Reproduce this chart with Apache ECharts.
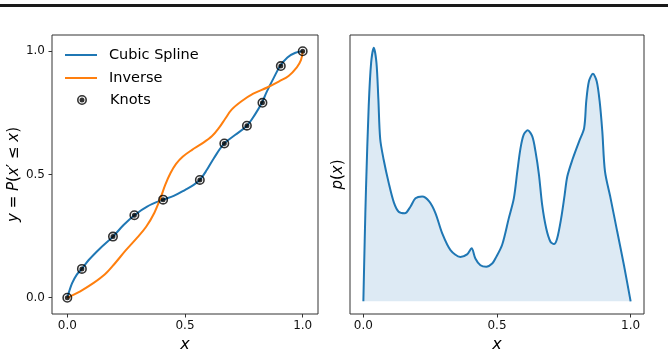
<!DOCTYPE html>
<html><head><meta charset="utf-8">
<script src="https://cdn.jsdelivr.net/npm/echarts@6/dist/echarts.min.js"></script>
<style>html,body{margin:0;padding:0;background:#fff}#c{width:668px;height:350px}</style>
</head><body><div id="c"></div>
<script>
// Cubic spline CDF (blue)
const splineX = [0, 0.020, 0.041, 0.062, 0.091, 0.140, 0.194, 0.239, 0.285, 0.339, 0.407, 0.452, 0.501, 0.537, 0.563, 0.593, 0.622, 0.666, 0.714, 0.763, 0.795, 0.826, 0.848, 0.877, 0.904, 0.935, 0.969, 1.0];
const splineY = [0, 0.058, 0.095, 0.117, 0.153, 0.201, 0.248, 0.295, 0.335, 0.370, 0.398, 0.413, 0.438, 0.458, 0.478, 0.519, 0.565, 0.625, 0.661, 0.698, 0.740, 0.790, 0.837, 0.892, 0.940, 0.975, 0.994, 1.0];
// Inverse (orange)
const inverseX = [0, 0.055, 0.112, 0.160, 0.201, 0.248, 0.296, 0.335, 0.370, 0.398, 0.416, 0.438, 0.462, 0.490, 0.530, 0.570, 0.615, 0.645, 0.670, 0.698, 0.740, 0.790, 0.849, 0.900, 0.940, 0.975, 0.993, 1.0];
const inverseY = [0, 0.026, 0.060, 0.095, 0.138, 0.192, 0.243, 0.288, 0.345, 0.410, 0.458, 0.505, 0.543, 0.572, 0.600, 0.624, 0.656, 0.690, 0.725, 0.763, 0.797, 0.828, 0.853, 0.878, 0.900, 0.935, 0.965, 1.0];
// Knots
const knotX = [0, 0.062, 0.194, 0.285, 0.407, 0.563, 0.667, 0.763, 0.829, 0.907, 1.0];
const knotY = [0, 0.117, 0.248, 0.335, 0.398, 0.478, 0.626, 0.698, 0.791, 0.940, 1.0];
// Density p(x) (arbitrary units, peak = 1)
const densX = [0, 0.005, 0.010, 0.020, 0.029, 0.039, 0.049, 0.056, 0.063, 0.076, 0.095, 0.114, 0.132, 0.155, 0.176, 0.195, 0.220, 0.247, 0.270, 0.295, 0.326, 0.363, 0.388, 0.405, 0.419, 0.438, 0.460, 0.482, 0.494, 0.519, 0.544, 0.563, 0.576, 0.588, 0.600, 0.615, 0.632, 0.644, 0.657, 0.669, 0.684, 0.700, 0.713, 0.725, 0.740, 0.753, 0.763, 0.782, 0.807, 0.826, 0.834, 0.844, 0.859, 0.873, 0.884, 0.894, 0.904, 0.925, 0.950, 0.975, 1.0];
const densY = [0, 0.24, 0.45, 0.77, 0.94, 1.0, 0.94, 0.80, 0.64, 0.558, 0.466, 0.390, 0.353, 0.347, 0.373, 0.406, 0.413, 0.393, 0.347, 0.268, 0.202, 0.175, 0.185, 0.209, 0.169, 0.142, 0.136, 0.149, 0.169, 0.222, 0.327, 0.406, 0.512, 0.604, 0.657, 0.674, 0.650, 0.591, 0.499, 0.380, 0.288, 0.235, 0.226, 0.248, 0.327, 0.419, 0.492, 0.558, 0.630, 0.683, 0.789, 0.868, 0.897, 0.868, 0.789, 0.670, 0.512, 0.406, 0.274, 0.142, 0];
const tickVals = [0, 0.5, 1.0];

const FONT = 'DejaVu Sans';
const BLUE = '#1f77b4', ORANGE = '#ff7f0e';
const zip = (a, b) => a.map((v, i) => [v, b[i]]);
const knotSymbol = 'path://M10 0A10 10 0 1 1 10 20A10 10 0 1 1 10 0ZM10 3.2A6.8 6.8 0 1 0 10 16.8A6.8 6.8 0 1 0 10 3.2ZM10 5A5 5 0 1 1 10 15A5 5 0 1 1 10 5Z';

function xAxisCfg(grid, min, max) {
  return {
    type: 'value', gridIndex: grid, min: min, max: max,
    axisLine: { show: false, onZero: false },
    axisTick: { show: true, length: 3.5, customValues: tickVals, lineStyle: { color: '#333', width: 1 } },
    axisLabel: { customValues: tickVals, formatter: v => v.toFixed(1), fontSize: 12, margin: 6, color: '#111', fontFamily: FONT },
    splitLine: { show: false },
    name: 'x', nameLocation: 'middle', nameGap: 20,
    nameTextStyle: { fontSize: 16, fontStyle: 'italic', fontFamily: FONT, color: '#000' }
  };
}

const chart = echarts.init(document.getElementById('c'), null, { renderer: 'canvas' });
chart.setOption({
  backgroundColor: '#fff',
  animation: false,
  grid: [
    { left: 52, top: 35, width: 266, height: 279, outerBoundsMode: 'none', containLabel: false, show: true, borderColor: '#333', borderWidth: 1, backgroundColor: 'transparent' },
    { left: 350, top: 35, width: 294, height: 279, outerBoundsMode: 'none', containLabel: false, show: true, borderColor: '#333', borderWidth: 1, backgroundColor: 'transparent' }
  ],
  xAxis: [xAxisCfg(0, -0.065, 1.065), xAxisCfg(1, -0.05, 1.05)],
  yAxis: [
    {
      type: 'value', gridIndex: 0, min: -0.066, max: 1.066,
      axisLine: { show: false, onZero: false },
      axisTick: { show: true, length: 3.5, customValues: tickVals, lineStyle: { color: '#333', width: 1 } },
      axisLabel: { customValues: tickVals, formatter: v => v.toFixed(1), fontSize: 12, margin: 7, color: '#111', fontFamily: FONT },
      splitLine: { show: false },
      name: '{i|y} = {i|P}({i|x}′ ≤ {i|x})', nameLocation: 'middle', nameGap: 29,
      nameTextStyle: { fontSize: 15, fontFamily: FONT, color: '#000', rich: { i: { fontStyle: 'italic', fontSize: 15, fontFamily: FONT, color: '#000' } } }
    },
    {
      type: 'value', gridIndex: 1, min: -0.05, max: 1.05,
      axisLine: { show: false, onZero: false }, axisTick: { show: false }, axisLabel: { show: false },
      splitLine: { show: false },
      name: '{i|p}({i|x})', nameLocation: 'middle', nameGap: 4,
      nameTextStyle: { fontSize: 15, fontFamily: FONT, color: '#000', rich: { i: { fontStyle: 'italic', fontSize: 15, fontFamily: FONT, color: '#000' } } }
    }
  ],
  legend: [
    {
      data: [{ name: 'Cubic Spline', icon: 'rect' }, { name: 'Inverse', icon: 'rect' }], orient: 'vertical', left: 65, top: 47, padding: 0,
      itemWidth: 32, itemHeight: 2, itemGap: 7,
      textStyle: { fontSize: 14.5, fontFamily: FONT, color: '#000', lineHeight: 16, padding: [0, 0, 0, 7] }
    },
    {
      data: ['Knots'], orient: 'vertical', left: 77, top: 92, padding: 0,
      itemWidth: 32, itemHeight: 10,
      textStyle: { fontSize: 14.5, fontFamily: FONT, color: '#000', lineHeight: 16, padding: [0, 0, 0, 7] }
    }
  ],
  series: [
    { name: 'Cubic Spline', type: 'line', xAxisIndex: 0, yAxisIndex: 0, data: zip(splineX, splineY), smooth: 0.35, showSymbol: false, symbol: 'none', lineStyle: { color: BLUE, width: 2 }, itemStyle: { color: BLUE }, z: 2 },
    { name: 'Inverse', type: 'line', xAxisIndex: 0, yAxisIndex: 0, data: zip(inverseX, inverseY), smooth: 0.35, showSymbol: false, symbol: 'none', lineStyle: { color: ORANGE, width: 2 }, itemStyle: { color: ORANGE }, z: 3 },
    { name: 'Knots', type: 'scatter', xAxisIndex: 0, yAxisIndex: 0, data: zip(knotX, knotY), symbol: knotSymbol, symbolSize: 10, symbolKeepAspect: true, itemStyle: { color: '#000' }, z: 4 },
    { name: 'density', type: 'line', xAxisIndex: 1, yAxisIndex: 1, data: zip(densX, densY), smooth: 0.3, showSymbol: false, symbol: 'none', lineStyle: { color: BLUE, width: 2 }, itemStyle: { color: BLUE }, areaStyle: { color: 'rgba(31,119,180,0.22)' }, z: 2 }
  ],
  graphic: [
    { type: 'line', shape: { x1: 0, y1: 5.5, x2: 668, y2: 5.5 }, style: { stroke: '#1a1a1a', lineWidth: 3 } }
  ]
});
</script>
</body></html>
